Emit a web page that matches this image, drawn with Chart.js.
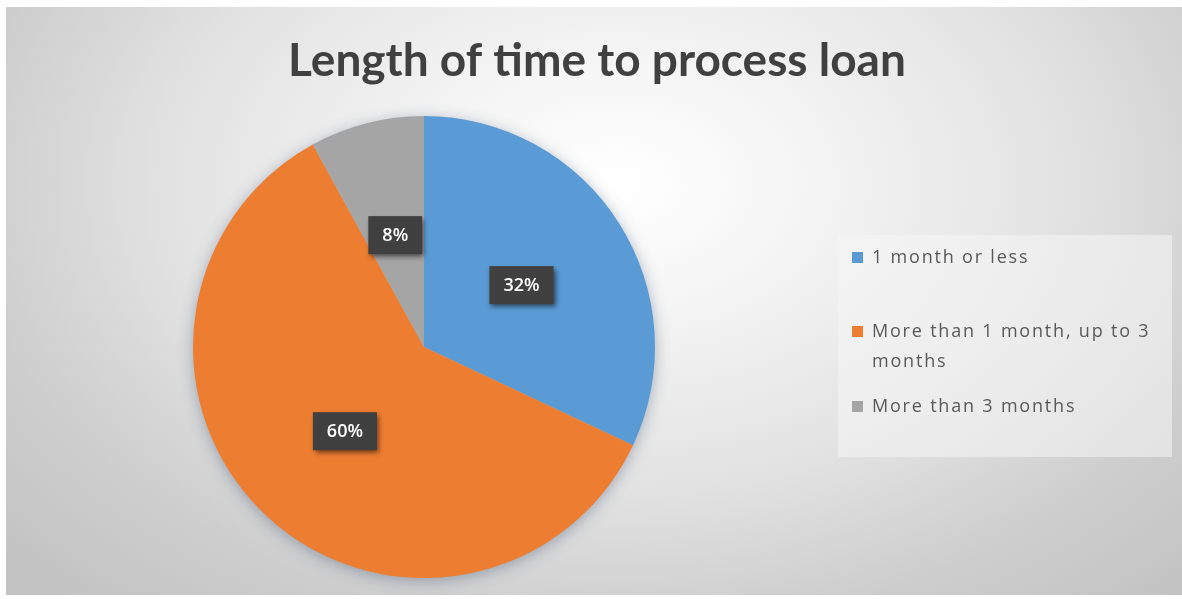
<!DOCTYPE html>
<html>
<head>
<meta charset="utf-8">
<title>Length of time to process loan</title>
<script src="https://cdn.jsdelivr.net/npm/chart.js@4.4.1/dist/chart.umd.min.js"></script>
<style>
  html, body { margin: 0; padding: 0; background: #ffffff; }
  #frame {
    position: absolute; left: 6px; top: 7px; width: 1176px; height: 588px;
    background: radial-gradient(ellipse 70% 95% at 52% 30%, #ffffff 0%, #f5f5f5 22%, #e2e2e2 55%, #cdcdcd 80%, #c3c3c3 100%);
  }
  #wrap { position: absolute; left: 0; top: 0; width: 1182px; height: 599px; }
</style>
</head>
<body>
<div id="frame"></div>
<div id="wrap"><canvas id="chart"></canvas></div>
<script>
// Chart content
const chartTitle = 'Length of time to process loan';
const categories = ['1 month or less', 'More than 1 month, up to 3 months', 'More than 3 months'];
const shares = [32, 60, 8];
const sliceColors = ['#5B9BD5', '#ED7D31', '#A5A5A5'];

// Soft shadow under the whole pie
const pieShadow = {
  id: 'pieShadow',
  beforeDatasetsDraw(chart) {
    const arc = chart.getDatasetMeta(0).data[0];
    if (!arc) return;
    const ctx = chart.ctx;
    ctx.save();
    ctx.shadowColor = 'rgba(60, 80, 110, 0.45)';
    ctx.shadowBlur = 16;
    ctx.shadowOffsetY = 3;
    ctx.fillStyle = '#bbbbbb';
    ctx.beginPath();
    ctx.arc(arc.x, arc.y, arc.outerRadius - 1, 0, Math.PI * 2);
    ctx.fill();
    ctx.restore();
  }
};

// Percentage callouts: dark boxes at each slice's centre point
const valueLabels = {
  id: 'valueLabels',
  afterDatasetsDraw(chart) {
    const ctx = chart.ctx;
    const ds = chart.data.datasets[0];
    chart.getDatasetMeta(0).data.forEach((arc, i) => {
      const p = arc.getCenterPoint();
      const text = ds.data[i] + '%';
      ctx.save();
      ctx.font = '600 18px "Open Sans"';
      const w = ctx.measureText(text).width + 28;
      const h = 38;
      ctx.shadowColor = 'rgba(0, 0, 0, 0.55)';
      ctx.shadowBlur = 5;
      ctx.shadowOffsetX = 2;
      ctx.shadowOffsetY = 3;
      ctx.fillStyle = '#404040';
      ctx.fillRect(p.x - w / 2, p.y - h / 2, w, h);
      ctx.shadowColor = 'transparent';
      ctx.fillStyle = '#ffffff';
      ctx.textAlign = 'center';
      ctx.textBaseline = 'middle';
      ctx.fillText(text, p.x, p.y + 1);
      ctx.restore();
    });
  }
};

function wrapWords(ctx, text, maxWidth) {
  const words = text.split(' ');
  const lines = [];
  let line = '';
  words.forEach(word => {
    const test = line ? line + ' ' + word : word;
    if (line && ctx.measureText(test).width > maxWidth) {
      lines.push(line);
      line = word;
    } else {
      line = test;
    }
  });
  if (line) lines.push(line);
  return lines;
}

// Title and boxed legend on the right
const titleAndLegend = {
  id: 'titleAndLegend',
  afterDraw(chart) {
    const ctx = chart.ctx;
    ctx.save();
    ctx.font = 'bold 46px Lato';
    ctx.fillStyle = '#404040';
    ctx.textAlign = 'center';
    ctx.textBaseline = 'alphabetic';
    ctx.fillText(chartTitle, 597, 76);

    // legend panel
    ctx.fillStyle = 'rgba(245, 245, 245, 0.55)';
    ctx.fillRect(838, 235, 334, 222);

    ctx.font = '18px "Open Sans"';
    ctx.letterSpacing = '1.8px';
    ctx.textAlign = 'left';
    const colors = chart.data.datasets[0].backgroundColor;
    const baselines = [263, 337, 412];
    chart.data.labels.forEach((label, i) => {
      const lines = wrapWords(ctx, label, 298);
      const y = baselines[i];
      ctx.fillStyle = colors[i];
      ctx.fillRect(852, y - 11, 11, 11);
      ctx.fillStyle = '#595959';
      lines.forEach((ln, k) => ctx.fillText(ln, 872, y + k * 30));
    });
    ctx.restore();
  }
};

new Chart(document.getElementById('chart'), {
  type: 'pie',
  data: {
    labels: categories,
    datasets: [{
      data: shares,
      backgroundColor: sliceColors,
      borderWidth: 0
    }]
  },
  options: {
    responsive: true,
    maintainAspectRatio: false,
    animation: false,
    layout: { padding: { top: 116, bottom: 21, left: 184, right: 518 } },
    plugins: {
      legend: { display: false },
      tooltip: { enabled: false },
      title: { display: false }
    }
  },
  plugins: [pieShadow, valueLabels, titleAndLegend]
});
</script>
</body>
</html>
